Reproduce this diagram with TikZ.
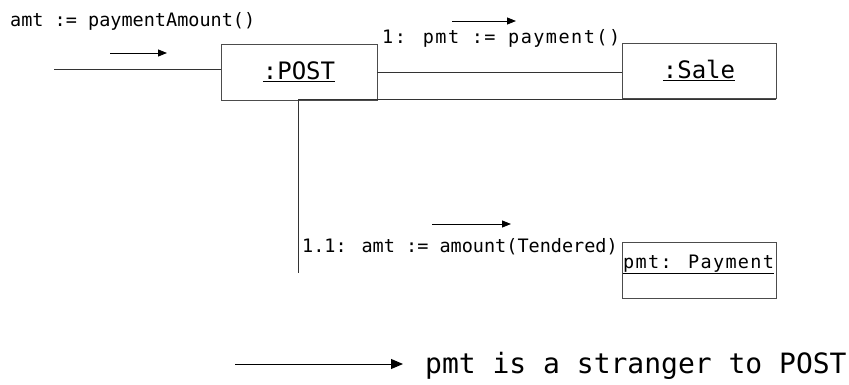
\documentclass[tikz,border=0pt]{standalone}
\usepackage{fontspec}
\usetikzlibrary{arrows.meta}
\newfontfamily\mono{DejaVu Sans Mono}
\tikzset{
  box/.style={draw=black!70, line width=0.9pt, rectangle, inner sep=0pt},
  lnk/.style={draw=black!80, line width=0.9pt},
  msg/.style={draw=black, line width=0.9pt, -{Triangle[length=9pt,width=7pt]}},
  bigmsg/.style={draw=black, line width=1pt, -{Triangle[length=12pt,width=10pt]}},
  lbl/.style={inner sep=0pt, anchor=base west, font=\mono\fontsize{18}{20}\selectfont}
}
\begin{document}
\begin{tikzpicture}[x=1pt,y=-1pt]
\useasboundingbox (0,0) rectangle (849,385);
% objects
\node[box, minimum width=156, minimum height=56, font=\mono\fontsize{24}{26}\selectfont] (post) at (299,72) {\underline{:POST}};
\node[box, minimum width=154, minimum height=55, font=\mono\fontsize{24}{26}\selectfont] (sale) at (699,70.5) {\underline{:Sale}};
\node[box, minimum width=154, minimum height=56] (pay) at (699,270) {};
\node[lbl, font=\mono\fontsize{18.5}{20}\selectfont\addfontfeature{LetterSpace=7}] (paytxt) at (623,268) {\underline{pmt: Payment}};
% links
\coordinate (in) at (54,69);
\draw[lnk] (in) -- (in -| post.west);
\draw[lnk] (post.east) -- (post.east -| sale.west);
\coordinate (corner) at (298,99);
\coordinate (lend) at (298,273);
\draw[lnk] (sale.south east |- corner) -- (corner) -- (lend);
% labels
\node[lbl, font=\mono\fontsize{18.5}{20}\selectfont] (l0) at (10,27) {amt := paymentAmount()};
\node[lbl, font=\mono\fontsize{18.5}{20}\selectfont\addfontfeature{LetterSpace=8}] (l1) at (382,44) {1: pmt := payment()};
\node[lbl, font=\mono\fontsize{18.5}{20}\selectfont] (l2) at (302,252) {1.1: amt := amount(Tendered)};
% message arrows
\coordinate (a0s) at (110,53); \coordinate (a0e) at (167,53);
\draw[msg] (a0s) -- (a0e);
\coordinate (a1s) at (452,21); \coordinate (a1e) at (516,21);
\draw[msg] (a1s) -- (a1e);
\coordinate (a2s) at (432,224); \coordinate (a2e) at (511,224);
\draw[msg] (a2s) -- (a2e);
% note
\coordinate (ns) at (235,364); \coordinate (ne) at (403,364);
\draw[bigmsg] (ns) -- (ne);
\node[lbl, font=\mono\fontsize{28}{30}\selectfont] (note) at (425,373) {pmt is a stranger to POST};
\end{tikzpicture}
\end{document}
